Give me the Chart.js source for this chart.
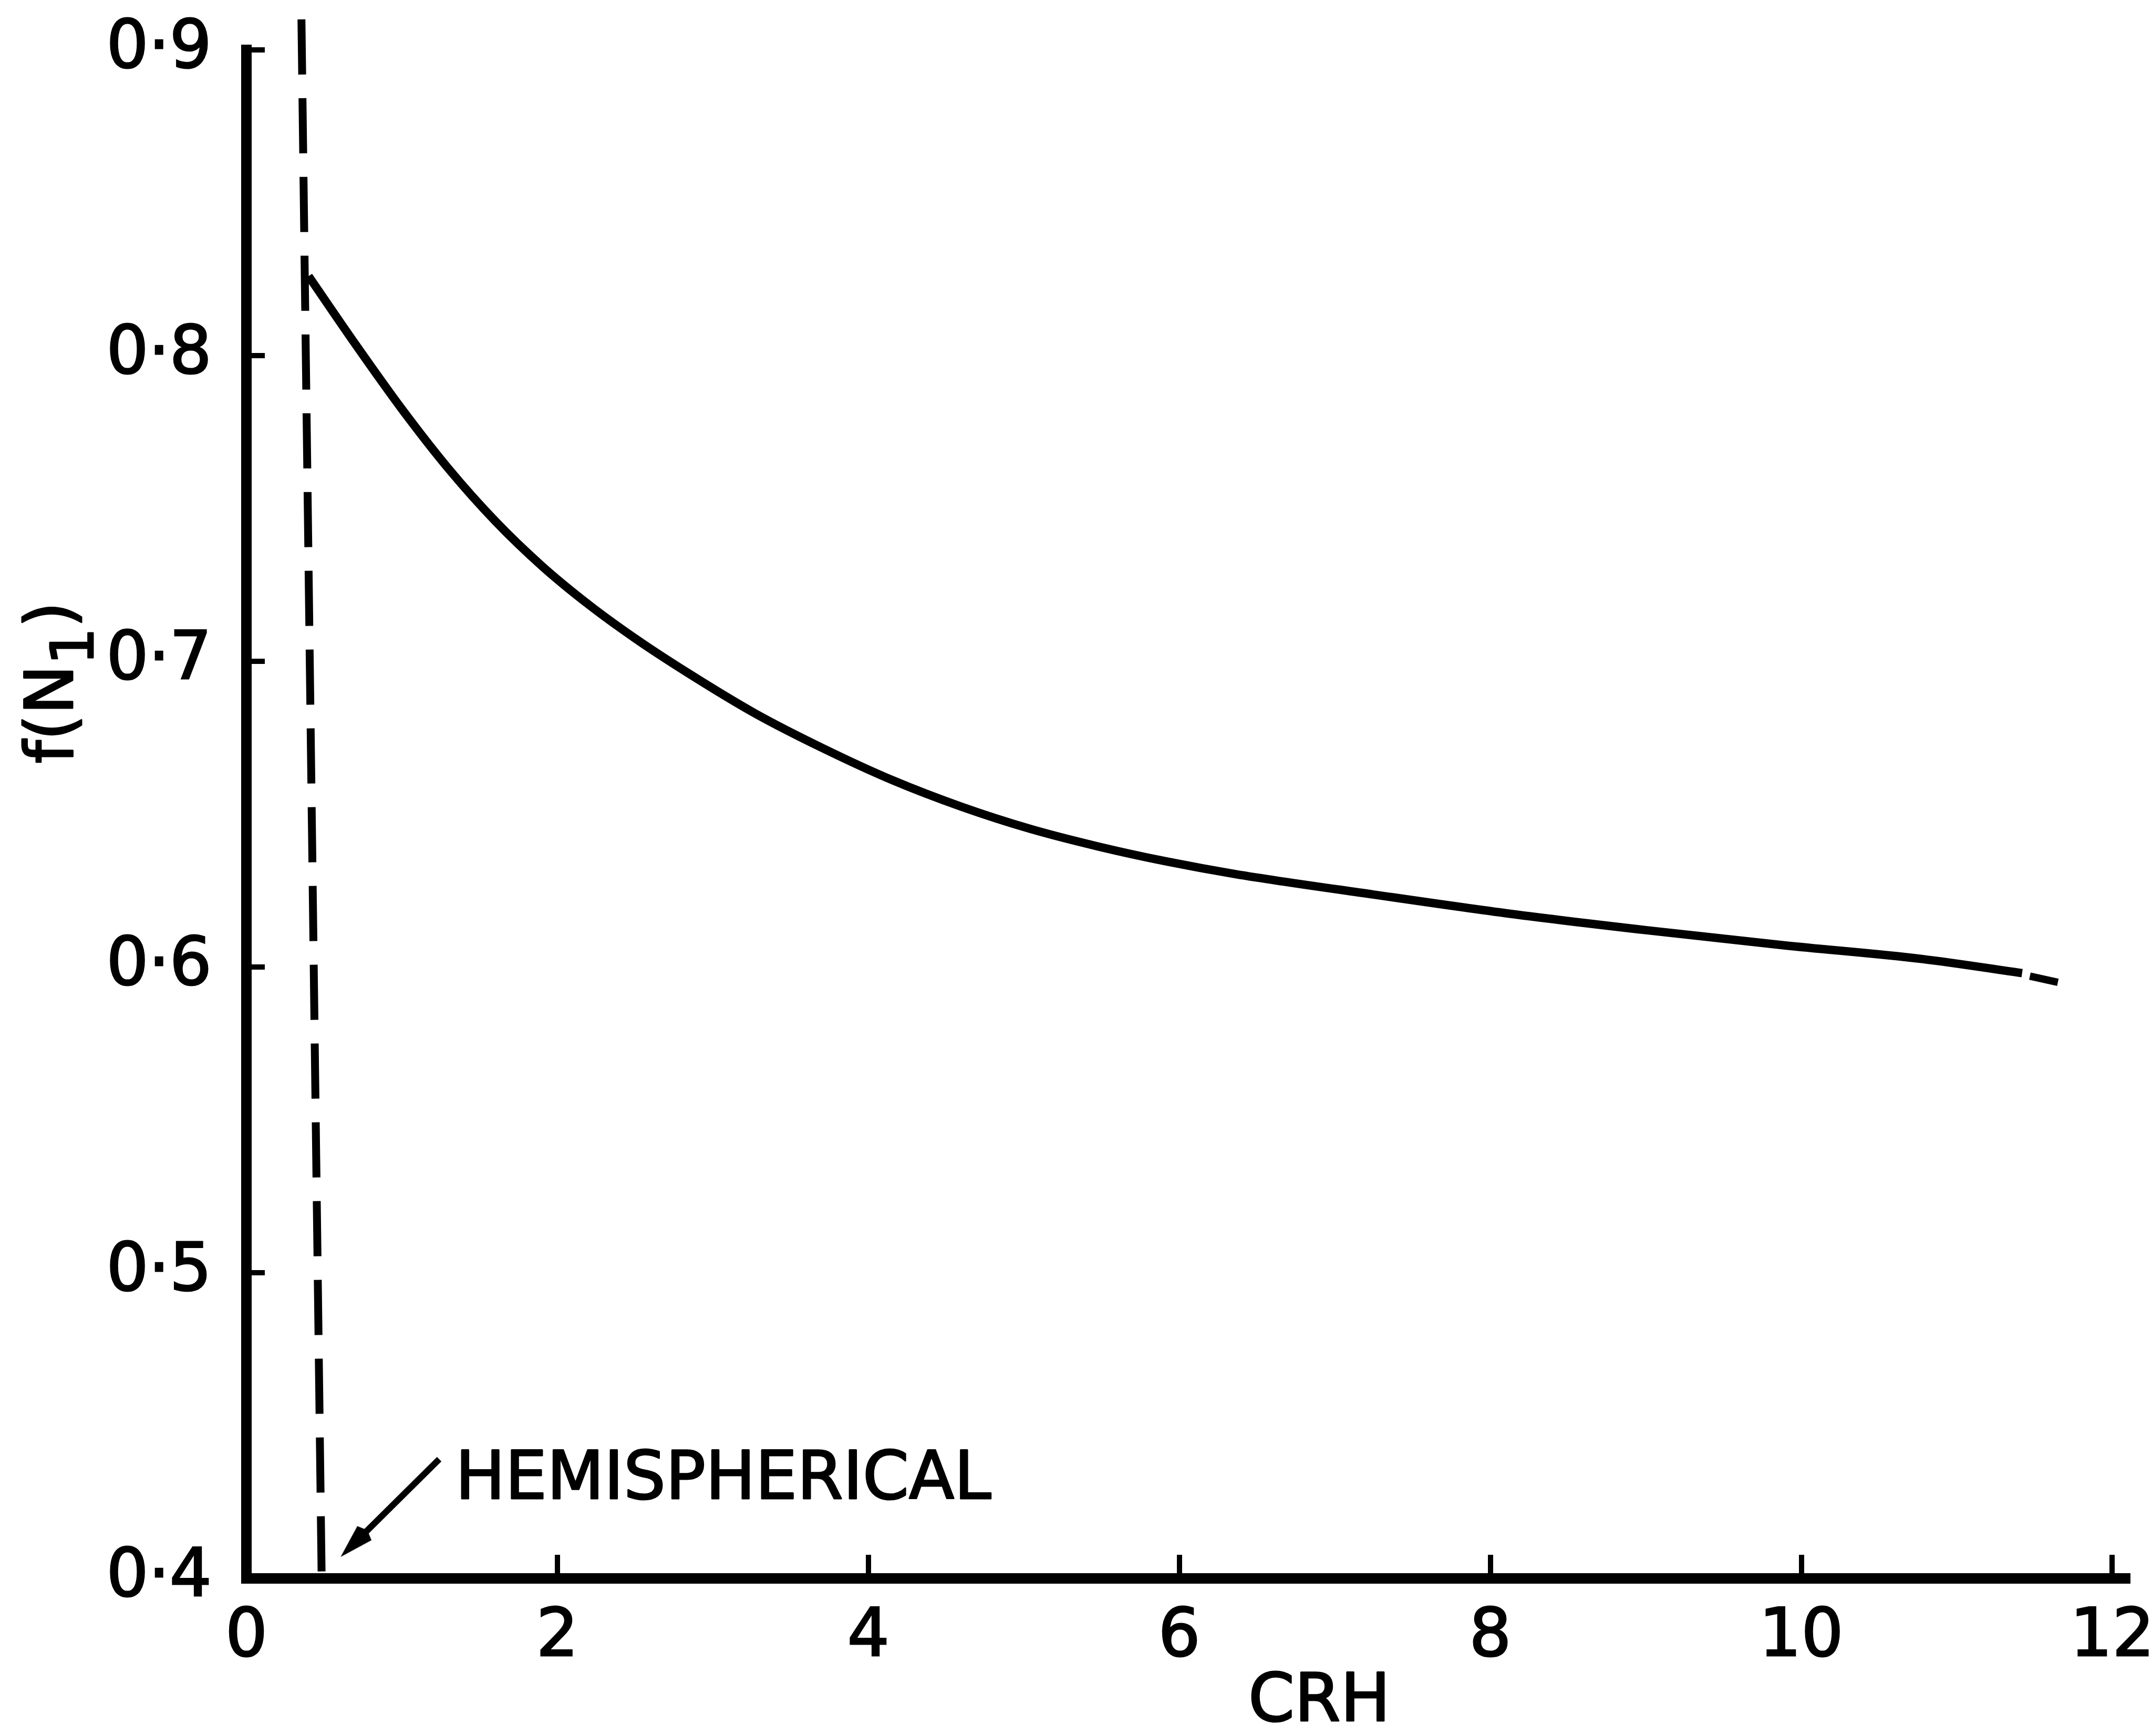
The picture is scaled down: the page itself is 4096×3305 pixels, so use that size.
<!DOCTYPE html>
<html>
<head>
<meta charset="utf-8">
<title>f(N1) vs CRH</title>
<script src="https://cdn.jsdelivr.net/npm/chart.js@4.4.0/dist/chart.umd.min.js"></script>
<style>
  html, body { margin: 0; padding: 0; background: #fff; }
  #wrap { width: 4096px; height: 3305px; position: relative; }
</style>
</head>
<body>
<div id="wrap"><canvas id="chart"></canvas></div>
<script>
// curve
const crh = [0.40, 0.70, 1.00, 1.30, 1.60, 1.90, 2.20, 2.50, 2.83, 3.27, 3.71, 4.16, 4.60, 5.04, 5.48, 5.92, 6.36, 7.25, 8.13, 9.01, 9.89, 10.78, 11.42];
const fN1 = [0.826, 0.8038, 0.7825, 0.763, 0.7459, 0.7312, 0.7186, 0.7075, 0.6965, 0.683, 0.6715, 0.661, 0.6524, 0.6452, 0.6394, 0.6345, 0.6304, 0.6237, 0.6174, 0.612, 0.6071, 0.6026, 0.598];
// short piece after the pen lift at the end
const tailCrh = [11.47, 11.65];
const tailF = [0.597, 0.595];
// hemispherical limit (dashed)
const hemiCrh = [0.354, 0.484];
const hemiF = [0.910, 0.400];
// arrow pointing at the limit
const arrowCrh = [1.24, 0.692];
const arrowF = [0.439, 0.4114];
const labelCrh = 1.344;
const labelF = 0.4318;

const xTicks = [0, 2, 4, 6, 8, 10, 12];
const yTicks = [0.4, 0.5, 0.6, 0.7, 0.8, 0.9];

const FONT = "'DejaVu Sans', sans-serif";
const pts = (xs, ys) => xs.map((v, i) => ({ x: v, y: ys[i] }));

// arrow head as a small canvas, pointing up
const head = document.createElement("canvas");
head.width = 38; head.height = 72;
const hc = head.getContext("2d");
hc.fillStyle = "#000";
hc.beginPath();
hc.moveTo(19, 0);
hc.lineTo(38, 64);
hc.lineTo(19, 72);
hc.lineTo(0, 64);
hc.closePath();
hc.fill();

// heavier lettering, like the stencil text of the figure
function inkText(ctx, s, x, y) {
  ctx.fillText(s, x, y);
  ctx.strokeText(s, x, y);
}

// text that is not an axis title of the library
const textPlugin = {
  id: "textPlugin",
  afterDatasetsDraw(chart) {
    const { ctx, chartArea, scales: { x, y } } = chart;
    ctx.save();
    ctx.fillStyle = "#000";
    ctx.strokeStyle = "#000";
    ctx.lineWidth = 3;
    ctx.lineJoin = "round";
    ctx.font = "126px " + FONT;
    ctx.textBaseline = "middle";
    ctx.textAlign = "left";
    inkText(ctx, "HEMISPHERICAL", x.getPixelForValue(labelCrh), y.getPixelForValue(labelF));

    ctx.textAlign = "center";
    inkText(ctx, "CRH", x.getPixelForValue(6.9), chartArea.bottom + 238);

    // y title f(N1), rotated
    ctx.translate(138, y.getPixelForValue(0.693));
    ctx.rotate(-Math.PI / 2);
    ctx.textAlign = "left";
    ctx.textBaseline = "alphabetic";
    ctx.font = "126px " + FONT;
    const a = ctx.measureText("f(N").width;
    const c = ctx.measureText(")").width;
    ctx.font = "112px " + FONT;
    const b = ctx.measureText("1").width;
    const u = -(a + b + c) / 2;
    ctx.font = "126px " + FONT;
    inkText(ctx, "f(N", u, 0);
    ctx.font = "112px " + FONT;
    inkText(ctx, "1", u + a, 39);
    ctx.font = "126px " + FONT;
    inkText(ctx, ")", u + a + b, 0);
    ctx.restore();
  }
};

new Chart(document.getElementById("chart"), {
  type: "line",
  data: {
    datasets: [
      {
        data: pts(crh, fN1),
        borderColor: "#000",
        borderWidth: 16,
        pointRadius: 0,
        cubicInterpolationMode: "monotone",
        clip: false
      },
      {
        data: pts(tailCrh, tailF),
        borderColor: "#000",
        borderWidth: 14,
        pointRadius: 0,
        clip: false
      },
      {
        data: pts(hemiCrh, hemiF),
        borderColor: "#000",
        borderWidth: 15,
        borderDash: [105, 45],
        pointRadius: 0,
        clip: false
      },
      {
        data: pts(arrowCrh, arrowF),
        borderColor: "#000",
        borderWidth: 12,
        pointRadius: [0, 5],
        pointStyle: head,
        rotation: 225,
        clip: false
      }
    ]
  },
  options: {
    responsive: true,
    maintainAspectRatio: false,
    devicePixelRatio: 1,
    animation: false,
    events: [],
    layout: { padding: { top: 95, right: 46, bottom: 0, left: 0 } },
    plugins: { legend: { display: false }, tooltip: { enabled: false } },
    scales: {
      x: {
        type: "linear",
        min: 0,
        max: 12.1,
        afterBuildTicks: (s) => { s.ticks = xTicks.map(v => ({ value: v })); },
        afterFit: (s) => { s.height = 300; s.paddingLeft = 0; s.paddingRight = 0; },
        border: { display: true, color: "#000", width: 20 },
        grid: { drawOnChartArea: false, drawTicks: true, tickLength: -45, color: "#000", lineWidth: 10 },
        ticks: {
          color: "#000", padding: 84, textStrokeColor: "#000", textStrokeWidth: 3,
          font: { family: FONT, size: 126 }
        }
      },
      y: {
        type: "linear",
        min: 0.4,
        max: 0.9,
        afterBuildTicks: (s) => { s.ticks = yTicks.map(v => ({ value: v })); },
        afterFit: (s) => { s.width = 469; s.paddingTop = 0; s.paddingBottom = 0; },
        border: { display: true, color: "#000", width: 20 },
        grid: { drawOnChartArea: false, drawTicks: true, tickLength: -35, color: "#000", lineWidth: 10 },
        ticks: {
          color: "#000", padding: 101, textStrokeColor: "#000", textStrokeWidth: 3,
          font: { family: FONT, size: 126 },
          callback: (v) => Number(v).toFixed(1).replace(".", "·")
        }
      }
    }
  },
  plugins: [textPlugin]
});
</script>
</body>
</html>
